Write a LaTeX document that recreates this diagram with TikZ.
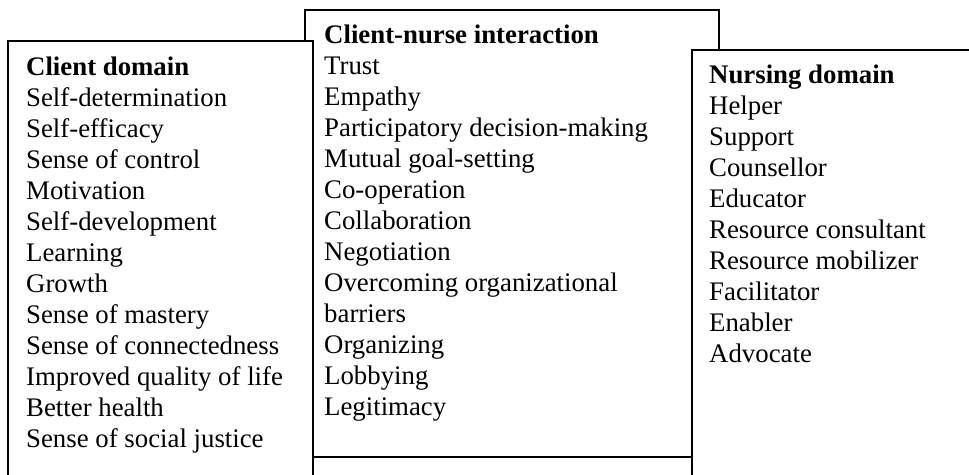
\documentclass[tikz,border=0pt]{standalone}
\usepackage{fontspec}
\setmainfont{Liberation Serif}
\begin{document}
\begin{tikzpicture}[x=1pt,y=-1pt,line join=miter,
	boxframe/.style={draw,fill=white,line width=2pt},
	boxtext/.style={anchor=north west,inner sep=0,align=left,font=\fontsize{26.8}{31}\selectfont}]
	\useasboundingbox (0,0) rectangle (969,474);
	% client-nurse interaction (behind the other two)
	\path[boxframe] (305,10) coordinate(m1) rectangle (719,457) coordinate(m2);
	\path (m1)++(19,11.3) node[boxtext](inter){\textbf{Client-nurse interaction}\strut\\
		Trust\\Empathy\\Participatory decision-making\\Mutual goal-setting\\
		Co-operation\\Collaboration\\Negotiation\\Overcoming organizational\\
		barriers\\Organizing\\Lobbying\\Legitimacy};
	% client domain
	\path[boxframe] (8,41) coordinate(c1) rectangle (313,500) coordinate(c2);
	\path (c1)++(18,12.3) node[boxtext](client){\textbf{Client domain}\strut\\
		Self-determination\\Self-efficacy\\Sense of control\\Motivation\\
		Self-development\\Learning\\Growth\\Sense of mastery\\
		Sense of connectedness\\Improved quality of life\\Better health\\
		Sense of social justice};
	% nursing domain
	\path[boxframe] (692,50) coordinate(n1) rectangle (990,500) coordinate(n2);
	\path (n1)++(17,11.3) node[boxtext](nursing){\textbf{Nursing domain}\strut\\
		Helper\\Support\\Counsellor\\Educator\\Resource consultant\\
		Resource mobilizer\\Facilitator\\Enabler\\Advocate};
\end{tikzpicture}
\end{document}
